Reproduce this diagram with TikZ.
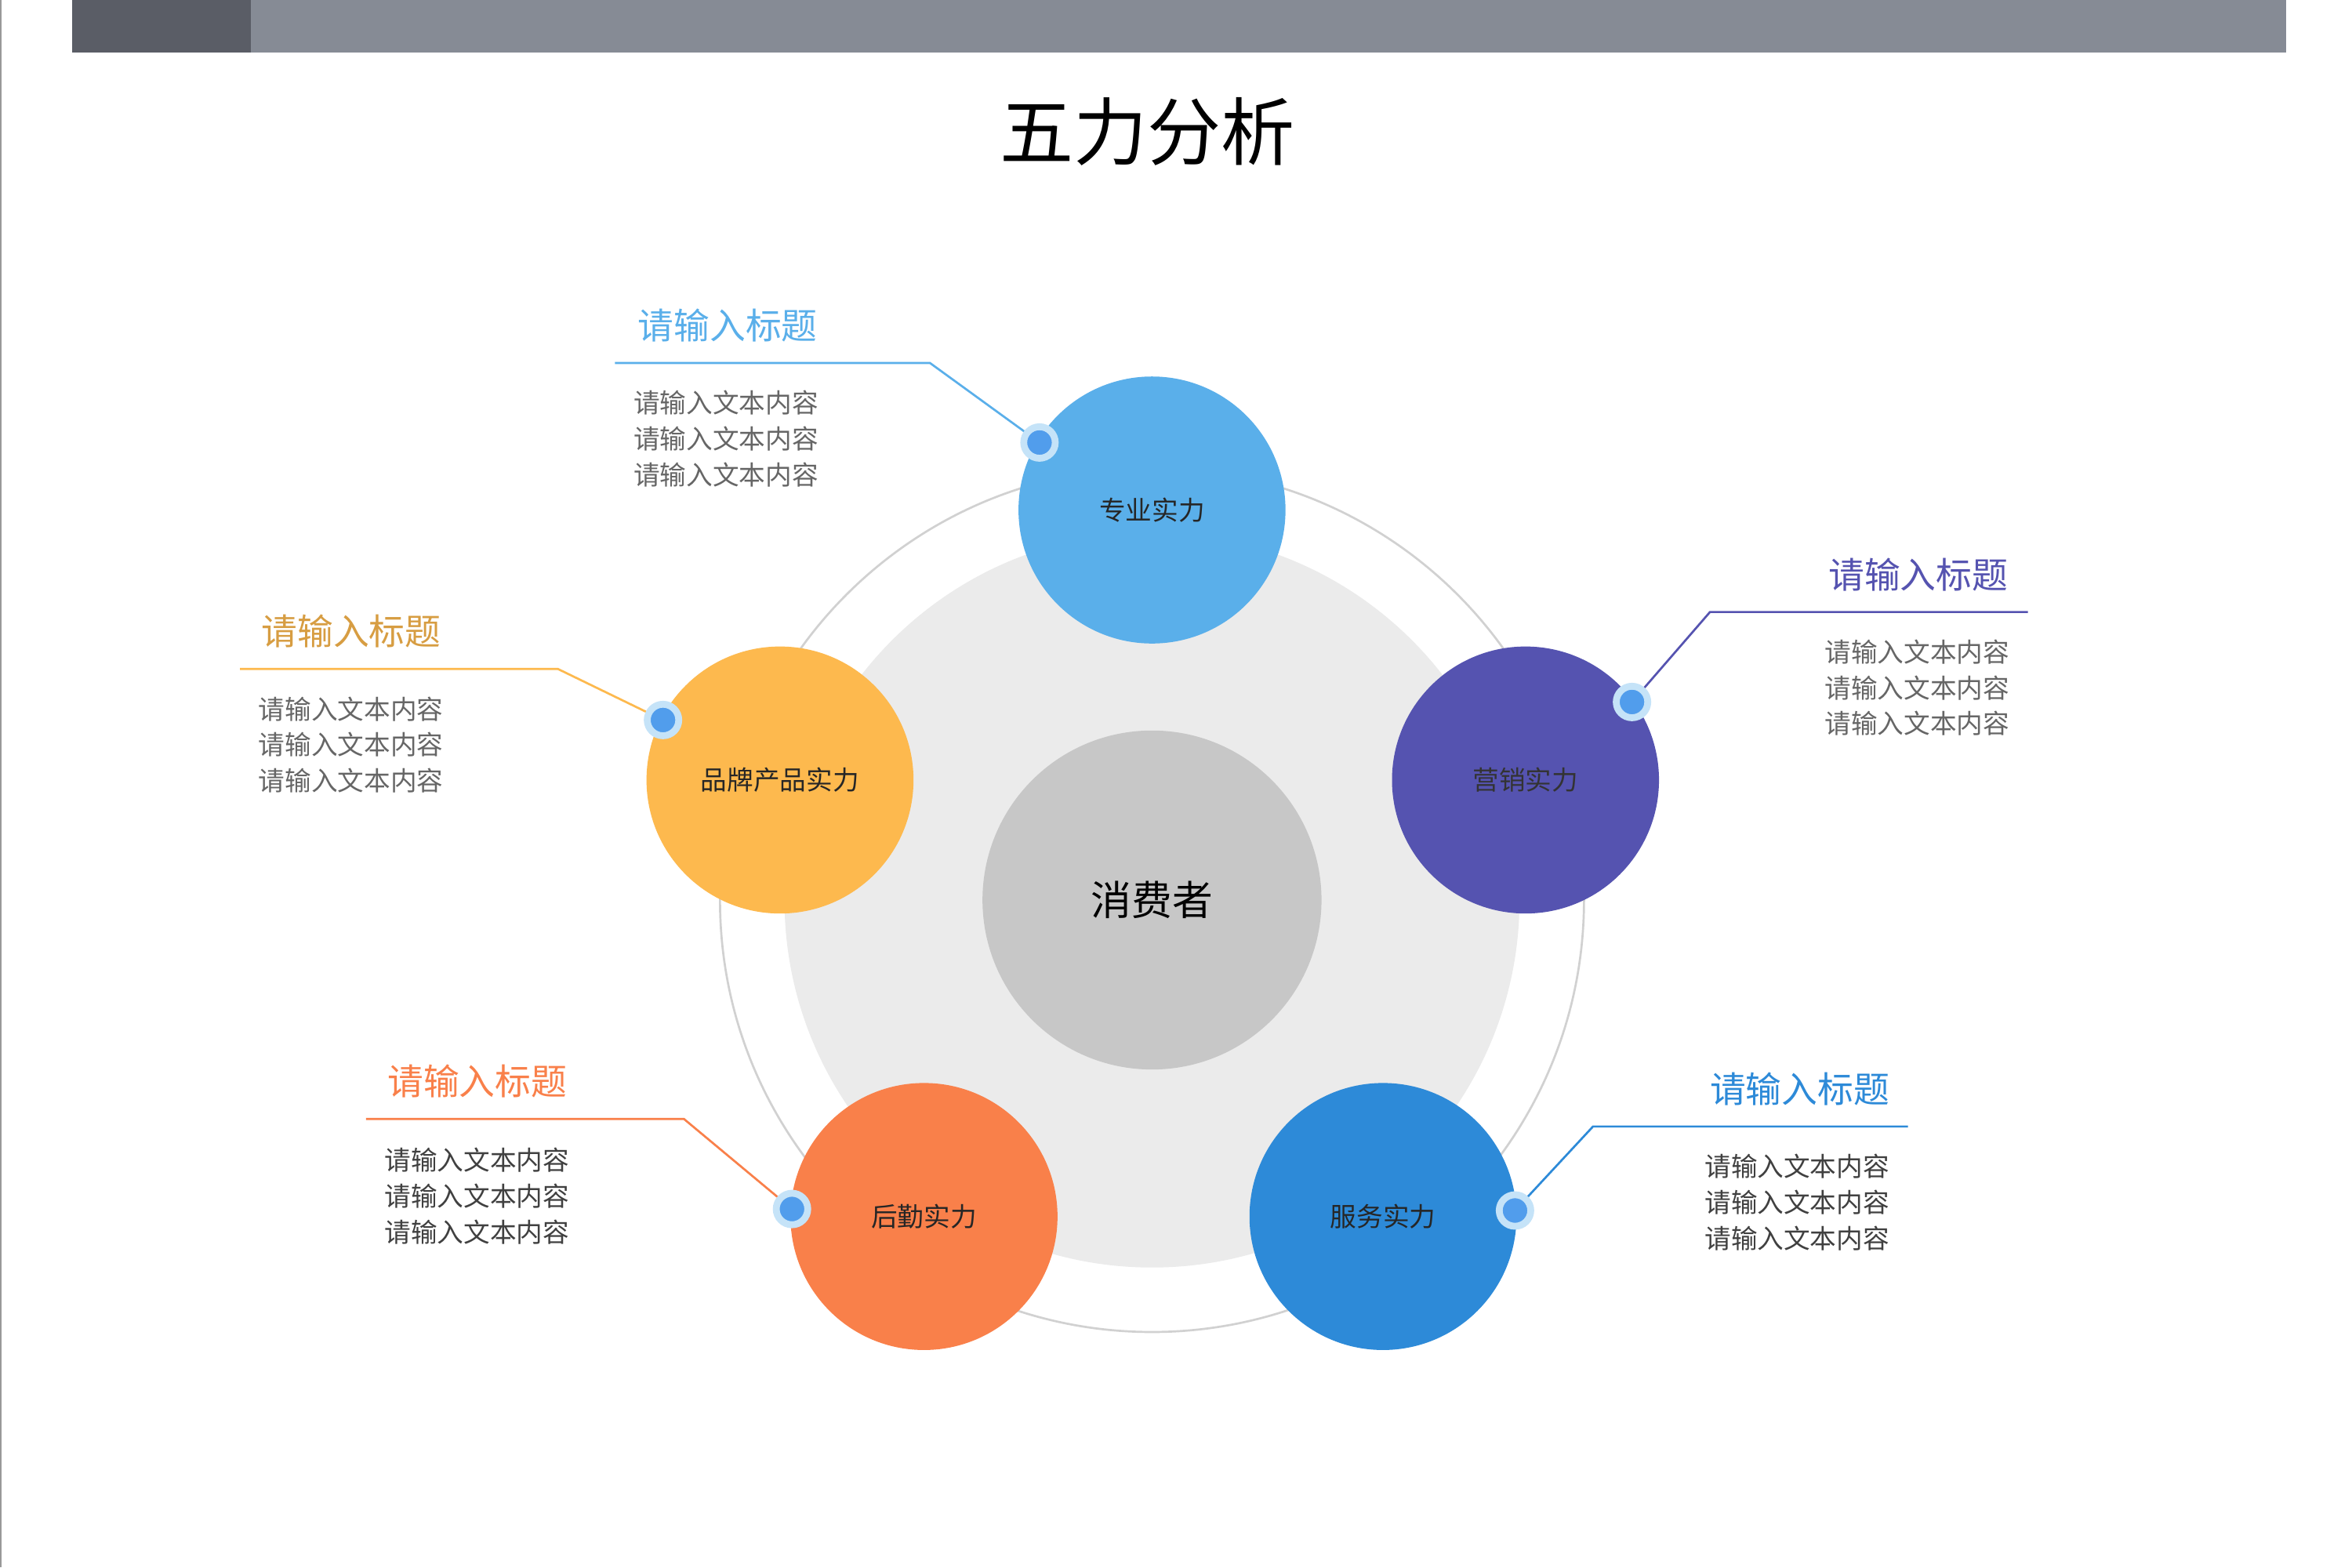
\documentclass[tikz,border=0pt]{standalone}
\usepackage{fontspec}
\setmainfont{Noto Sans CJK SC}
\usetikzlibrary{positioning}
\definecolor{cTop}{HTML}{5AAFEA}
\definecolor{cLeft}{HTML}{FDB94E}
\definecolor{cRight}{HTML}{5553B0}
\definecolor{cBL}{HTML}{F9804A}
\definecolor{cBR}{HTML}{2D8AD8}
\definecolor{barGray}{HTML}{868B95}
\definecolor{barDark}{HTML}{5A5D66}
\tikzset{
  force/.style={circle,minimum size=178*0.01cm,inner sep=0pt,font=\fontsize{5}{6}\selectfont,text=black!85},
  dot/.style={circle,fill=cTop!90!blue,draw=cTop!35,line width=1.3pt,minimum size=21*0.01cm,inner sep=0pt},
  ttl/.style={font=\fontsize{6.8}{8}\selectfont},
  body/.style={font=\fontsize{5}{6.8}\selectfont,text=black!60,align=left}
}
\begin{document}
\begin{tikzpicture}[x=0.01cm,y=-0.01cm]
  \useasboundingbox (0,0) rectangle (1568,1045);
  \fill[white] (0,0) rectangle (1568,1045);
  \draw[black!40,line width=0.3pt] (0.5,0) -- (0.5,1045);
  % top bar
  \fill[barGray] (48,0) rectangle (1524,35);
  \fill[barDark] (48,0) rectangle (167,35);
  \node (title) at (765,88) {\fontsize{14}{16}\selectfont 五力分析};

  % rings
  \draw[black!18,line width=0.4pt] (768,600) circle (288);
  \fill[black!8] (768,600) circle (245);
  \node[circle,fill=black!22!white,minimum size=226*0.01cm] (consumer) at (768,600) {\fontsize{7.7}{9}\selectfont 消费者};

  % five forces
  \node[force,fill=cTop] (pro) at (768,340) {专业实力};
  \node[force,fill=cLeft] (brand) at (520,520) {品牌产品实力};
  \node[force,fill=cRight,text=black!80] (mkt) at (1017,520) {营销实力};
  \node[force,fill=cBL] (log) at (616,811) {后勤实力};
  \node[force,fill=cBR] (svc) at (922,811) {服务实力};

  % markers
  \node[dot] (dTop) at (693,295) {};
  \node[dot] (dLeft) at (442,480) {};
  \node[dot] (dRight) at (1088,468) {};
  \node[dot] (dBL) at (528,806) {};
  \node[dot] (dBR) at (1010,807) {};

  % callouts
  \coordinate (kTop) at (620,242); \coordinate (eTop) at (410,242);
  \draw[cTop,line width=0.4pt] (dTop) -- (kTop) -- (eTop);
  \node[ttl,text=cTop,anchor=west] (tTop) at (413,217) {请输入标题};
  \node[body,anchor=north west] (bTop) at (410,248) {请输入文本内容\\请输入文本内容\\请输入文本内容};

  \coordinate (kLeft) at (372,446); \coordinate (eLeft) at (160,446);
  \draw[cLeft,line width=0.4pt] (dLeft) -- (kLeft) -- (eLeft);
  \node[ttl,text=cLeft!85!black,anchor=west] (tLeft) at (162,421) {请输入标题};
  \node[body,anchor=north west] (bLeft) at (160,452) {请输入文本内容\\请输入文本内容\\请输入文本内容};

  \coordinate (kRight) at (1140,408); \coordinate (eRight) at (1352,408);
  \draw[cRight,line width=0.4pt] (dRight) -- (kRight) -- (eRight);
  \node[ttl,text=cRight,anchor=east] (tRight) at (1351,383) {请输入标题};
  \node[body,anchor=north east,align=right] (bRight) at (1352,414) {请输入文本内容\\请输入文本内容\\请输入文本内容};

  \coordinate (kBL) at (456,746); \coordinate (eBL) at (244,746);
  \draw[cBL,line width=0.4pt] (dBL) -- (kBL) -- (eBL);
  \node[ttl,text=cBL,anchor=west] (tBL) at (246,721) {请输入标题};
  \node[body,text=black!75,anchor=north west] (bBL) at (244,753) {请输入文本内容\\请输入文本内容\\请输入文本内容};

  \coordinate (kBR) at (1062,751); \coordinate (eBR) at (1272,751);
  \draw[cBR,line width=0.4pt] (dBR) -- (kBR) -- (eBR);
  \node[ttl,text=cBR,anchor=east] (tBR) at (1272,726) {请输入标题};
  \node[body,text=black!75,anchor=north east,align=right] (bBR) at (1272,757) {请输入文本内容\\请输入文本内容\\请输入文本内容};
\end{tikzpicture}
\end{document}
